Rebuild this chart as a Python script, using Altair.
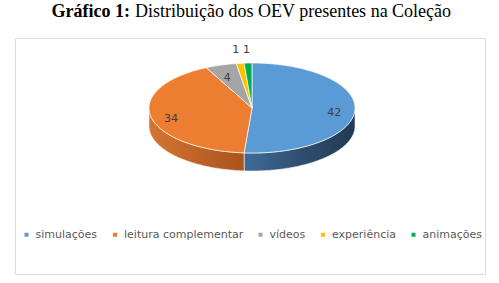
import altair as alt
import pandas as pd
import numpy as np

categories = ["simulações", "leitura complementar", "vídeos", "experiência", "animações"]
values = [42, 34, 4, 1, 1]
colors = ["#5B9BD5", "#ED7D31", "#A5A5A5", "#FFC000", "#00B050"]
side_colors = [
    ["#406B97", "#2F4F70", "#223A52"],
    ["#D47532", "#BF6427", "#A9541D"],
    ["#8A8A8A", "#777777", "#666666"],
    ["#D9A300", "#C29100", "#A67C00"],
    ["#00953F", "#007F36", "#006B2D"],
]
title_bold = "Gráfico 1:"
title_rest = "Distribuição dos OEV presentes na Coleção"

total = sum(values)
depth = 0.4

tops, sides, labels = [], [], []
start = 0.0
for cat, v in zip(categories, values):
    end = start + 360.0 * v / total
    n = max(3, int(np.ceil(end - start)) + 1)
    rad = np.radians(np.linspace(start, end, n))
    pts = [(0.0, 0.0)] + list(zip(np.sin(rad), np.cos(rad)))
    for i, (x, y) in enumerate(pts):
        tops.append({"cat": cat, "idx": i, "x": float(x), "y": float(y)})
    lo, hi = max(start, 90.0), min(end, 270.0)
    if hi > lo:
        m = max(3, int(np.ceil(hi - lo)) + 1)
        a = np.radians(np.linspace(lo, hi, m))
        edge = [(np.sin(t), np.cos(t)) for t in a]
        bottom = [(np.sin(t), np.cos(t) - depth) for t in a[::-1]]
        for i, (x, y) in enumerate(edge + bottom):
            sides.append({"cat": cat, "idx": i, "x": float(x), "y": float(y)})
    mid = np.radians((start + end) / 2)
    k = 0.8 if v / total > 0.03 else 1.38
    labels.append({"cat": cat, "value": v, "x": float(k * np.sin(mid)), "y": float(k * np.cos(mid))})
    start = end

tops_df = pd.DataFrame(tops)
sides_df = pd.DataFrame(sides)
labels_df = pd.DataFrame(labels)

xs = alt.Scale(domain=[-1, 1], range=[134, 340])
ys = alt.Scale(domain=[-1, 1], range=[115, 25])
X = alt.X("x:Q", scale=xs, axis=None)
Y = alt.Y("y:Q", scale=ys, axis=None)

layers = []
for cat, sc in zip(categories, side_colors):
    sub = sides_df[sides_df["cat"] == cat]
    if len(sub) == 0:
        continue
    grad = alt.LinearGradient(
        gradient="linear",
        stops=[alt.GradientStop(color=sc[0], offset=0),
               alt.GradientStop(color=sc[1], offset=0.5),
               alt.GradientStop(color=sc[2], offset=1)],
        x1=0, x2=1, y1=0, y2=0,
    )
    layers.append(
        alt.Chart(sub).mark_line(interpolate="linear-closed", fill=grad, stroke="#eeeeee", strokeWidth=0.6)
        .encode(x=X, y=Y, order="idx:Q")
    )

top = alt.Chart(tops_df).mark_line(interpolate="linear-closed", stroke="white", strokeWidth=0.7).encode(
    x=X, y=Y, order="idx:Q", detail="cat:N",
    fill=alt.Fill("cat:N", scale=alt.Scale(domain=categories, range=colors),
                  legend=alt.Legend(title=None, orient="none", direction="horizontal",
                                    legendX=6, legendY=191, symbolType="square", symbolSize=16,
                                    symbolStrokeWidth=0, labelFont="DejaVu Sans", labelFontSize=11,
                                    labelColor="#595959", columnPadding=11.5, labelOffset=3.5)),
)
layers.append(top)

lab = alt.Chart(labels_df).mark_text(font="DejaVu Sans", fontSize=11, color="#404040", dy=4).encode(
    x=X, y=Y, text="value:Q"
)
layers.append(lab)

t1 = alt.Chart(pd.DataFrame({"t": [title_bold]})).mark_text(
    font="Liberation Serif", fontSize=18, fontWeight="bold", color="#000000", align="right", baseline="alphabetic"
).encode(x=alt.value(115), y=alt.value(-21), text="t:N")
t2 = alt.Chart(pd.DataFrame({"t": [title_rest]})).mark_text(
    font="Liberation Serif", fontSize=18, color="#000000", align="left", baseline="alphabetic"
).encode(x=alt.value(120), y=alt.value(-21), text="t:N")
layers += [t1, t2]

chart = alt.layer(*layers).properties(
    width=470, height=236,
    padding={"left": 15, "top": 38, "right": 14, "bottom": 9},
    autosize=alt.AutoSizeParams(type="none"),
    background="white",
).configure_view(stroke="#dddddd", strokeWidth=1)

chart.save("out.html", embed_options={"renderer": "svg", "actions": False})
